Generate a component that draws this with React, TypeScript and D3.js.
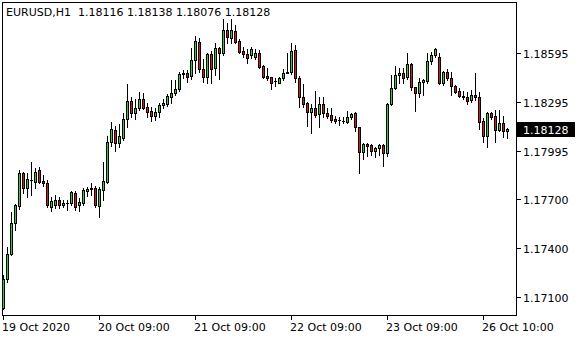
import React from "react";
import * as d3 from "d3";

const symbolTitle = "EURUSD,H1";
const lastOHLC = ["1.18116", "1.18138", "1.18076", "1.18128"];

const openP = [1.17031,1.17208,1.17363,1.17552,1.17658,1.17858,1.17766,1.17817,1.17806,1.17878,1.17811,1.17797,1.17653,1.17664,1.17694,1.17664,1.17674,1.17674,1.17739,1.17664,1.17674,1.17751,1.1776,1.17766,1.17658,1.17756,1.17806,1.18052,1.18123,1.18045,1.18072,1.18189,1.18301,1.18226,1.18256,1.18311,1.18262,1.18238,1.18211,1.18232,1.18275,1.18281,1.18327,1.18348,1.18374,1.18465,1.18474,1.18454,1.18552,1.18664,1.18495,1.18446,1.18589,1.18501,1.18624,1.18597,1.18736,1.18685,1.18732,1.1867,1.18609,1.18589,1.18583,1.18569,1.18597,1.18515,1.18454,1.18446,1.18425,1.18413,1.18444,1.18477,1.18477,1.18613,1.1844,1.18324,1.18287,1.18235,1.18256,1.18221,1.18283,1.18229,1.18215,1.18191,1.18185,1.1818,1.18174,1.18205,1.18226,1.1814,1.1799,1.18036,1.18031,1.17995,1.18011,1.18031,1.1798,1.18283,1.18379,1.1846,1.18471,1.18446,1.18528,1.18385,1.18348,1.18419,1.18425,1.18548,1.18583,1.18572,1.18413,1.18477,1.1844,1.18393,1.18362,1.18332,1.18324,1.18307,1.18338,1.18324,1.1818,1.18086,1.18229,1.18209,1.18123,1.18164,1.18116];
const highP = [1.17235,1.17405,1.17623,1.17668,1.17878,1.17868,1.17858,1.17925,1.17889,1.17898,1.17848,1.17817,1.17715,1.17725,1.17715,1.17694,1.17694,1.17751,1.17751,1.17705,1.17766,1.17776,1.178,1.1778,1.17776,1.17929,1.18086,1.18174,1.18148,1.1816,1.18226,1.18405,1.18324,1.18311,1.18358,1.18352,1.18291,1.18262,1.18256,1.18287,1.18311,1.18344,1.1843,1.1843,1.1848,1.18491,1.18491,1.18624,1.18699,1.18687,1.18556,1.18597,1.18609,1.18654,1.1863,1.18802,1.18781,1.18802,1.18767,1.18679,1.18634,1.18618,1.1863,1.18618,1.18613,1.18521,1.18501,1.1845,1.1844,1.1845,1.18495,1.18593,1.18656,1.18644,1.18454,1.18405,1.18297,1.18283,1.18364,1.18324,1.18324,1.18256,1.1826,1.18209,1.18205,1.18201,1.18241,1.18229,1.18235,1.18143,1.18042,1.18042,1.18037,1.18017,1.18035,1.18035,1.18287,1.1846,1.18515,1.18501,1.18501,1.18593,1.18536,1.18389,1.1844,1.18434,1.18593,1.18603,1.18624,1.18597,1.18487,1.18495,1.1848,1.18399,1.18379,1.18364,1.18358,1.18368,1.18474,1.18358,1.18195,1.18235,1.18235,1.18246,1.18246,1.18209,1.18138];
const lowP = [1.17026,1.17194,1.17357,1.17511,1.17637,1.17735,1.17715,1.17725,1.17766,1.17797,1.1778,1.17653,1.17629,1.17643,1.17643,1.1765,1.17633,1.17664,1.17633,1.17629,1.17664,1.17719,1.17725,1.17653,1.17588,1.17694,1.17799,1.18025,1.17996,1.18021,1.18062,1.18143,1.18201,1.18189,1.18246,1.1825,1.18205,1.1818,1.18185,1.18205,1.18256,1.1827,1.18291,1.18338,1.18364,1.1844,1.18419,1.18434,1.18474,1.1848,1.18419,1.18413,1.18413,1.1846,1.18434,1.18583,1.18654,1.18654,1.18654,1.18593,1.18572,1.18536,1.18563,1.18556,1.18501,1.1844,1.1843,1.18376,1.18393,1.18409,1.1843,1.18471,1.18465,1.18419,1.18266,1.18266,1.18148,1.18107,1.18205,1.18143,1.18201,1.18195,1.18174,1.18164,1.18154,1.18168,1.18164,1.18189,1.18119,1.17858,1.17944,1.17964,1.1797,1.1796,1.1797,1.17905,1.17964,1.18276,1.18373,1.18409,1.18409,1.18434,1.18368,1.18241,1.18324,1.18338,1.18413,1.18528,1.18572,1.18405,1.18399,1.1843,1.18338,1.18348,1.18324,1.18311,1.18283,1.18297,1.18307,1.18128,1.18052,1.18021,1.18189,1.18052,1.18119,1.18078,1.18076];
const closeP = [1.17208,1.17363,1.17552,1.17664,1.17858,1.17766,1.17821,1.17815,1.17868,1.17806,1.17797,1.17664,1.17688,1.17694,1.17664,1.17678,1.17676,1.17743,1.17653,1.17684,1.17756,1.17762,1.17768,1.17664,1.1776,1.17811,1.18052,1.18128,1.18045,1.18086,1.18189,1.18301,1.18226,1.18256,1.18311,1.1826,1.18235,1.18211,1.18232,1.18275,1.18287,1.18332,1.18352,1.18374,1.18466,1.18474,1.1845,1.18552,1.1867,1.18495,1.18446,1.18589,1.18495,1.18624,1.18597,1.18736,1.18691,1.18736,1.18664,1.18603,1.18587,1.18566,1.18618,1.18597,1.18511,1.1845,1.1844,1.18413,1.18423,1.1844,1.18474,1.18475,1.18609,1.1844,1.18324,1.18283,1.18235,1.18256,1.18215,1.18283,1.18226,1.18209,1.18185,1.1818,1.18183,1.18181,1.18201,1.18221,1.1814,1.1799,1.18036,1.18025,1.17996,1.18011,1.18031,1.1798,1.18283,1.18379,1.1846,1.18474,1.1844,1.18528,1.18385,1.18348,1.18419,1.1843,1.18548,1.18583,1.18618,1.18413,1.18477,1.1844,1.18393,1.18358,1.18332,1.18324,1.18303,1.18338,1.18324,1.18174,1.18086,1.18229,1.18201,1.18123,1.18164,1.18119,1.18128];

const priceTicks = [1.18595, 1.18295, 1.17995, 1.177, 1.174, 1.171];
const timeTickIndex = [0, 24, 48, 72, 96, 120];
const timeTickLabels = ["19 Oct 2020", "20 Oct 09:00", "21 Oct 09:00", "22 Oct 09:00", "23 Oct 09:00", "26 Oct 10:00"];
const currentPrice = 1.18128;

const W = 580, H = 340;
const FL = 2, FT = 2, FR = 516, FB = 315;
const FONT = "'DejaVu Sans', Verdana, sans-serif";
const UP = "#32cd32";
const DOWN = "#d01c1c";

export default function App() {
  const x = d3.scaleLinear().domain([0, 126]).range([3.5, 507.5]);
  const y = d3.scaleLinear().domain([1.171, 1.18595]).range([297, 53]);
  const candles = openP.map((o, i) => ({ i, o, h: highP[i], l: lowP[i], c: closeP[i] }));
  const tickY = (p: number, k: number) => Math.round(y(priceTicks[0]) + k * (y(priceTicks[priceTicks.length - 1]) - y(priceTicks[0])) / (priceTicks.length - 1));

  return (
    <svg width={W} height={H} style={{ position: "absolute", left: 0, top: 0, background: "#fff" }} fontFamily={FONT}>
      <rect x={0} y={0} width={W} height={H} fill="#fff" />
      <g shapeRendering="crispEdges">
        {candles.map((d) => {
          const cx = Math.floor(x(d.i)) + 0.5;
          const yt = Math.round(y(Math.max(d.o, d.c)));
          const yb = Math.round(y(Math.min(d.o, d.c)));
          const fill = d.c > d.o ? UP : d.c < d.o ? DOWN : "#000";
          return (
            <g key={d.i}>
              <line x1={cx} x2={cx} y1={Math.round(y(d.h))} y2={Math.round(y(d.l)) + 1} stroke="#000" strokeWidth={1} />
              {yb - yt >= 1 ? (
                <rect x={cx - 1} y={yt + 0.5} width={2} height={yb - yt} fill={fill} stroke="#000" strokeWidth={1} />
              ) : (
                <line x1={cx - 1.5} x2={cx + 1.5} y1={yt + 0.5} y2={yt + 0.5} stroke="#000" strokeWidth={1} />
              )}
            </g>
          );
        })}
        <rect x={FL + 0.5} y={FT + 0.5} width={FR - FL} height={FB - FT} fill="none" stroke="#000" strokeWidth={1} />
        {priceTicks.map((p, k) => (
          <line key={"pt" + k} x1={FR} x2={FR + 5} y1={tickY(p, k) + 0.5} y2={tickY(p, k) + 0.5} stroke="#000" />
        ))}
        {timeTickIndex.map((ti, k) => (
          <line key={"tt" + k} x1={Math.floor(x(ti)) + 0.5} x2={Math.floor(x(ti)) + 0.5} y1={FB} y2={FB + 5} stroke="#000" />
        ))}
      </g>
      {priceTicks.map((p, k) => (
        <text key={"pl" + k} x={523} y={tickY(p, k) + 4.5} fontSize={11} fill="#000">
          {p.toFixed(5)}
        </text>
      ))}
      {timeTickIndex.map((ti, k) => (
        <text key={"tl" + k} x={Math.floor(x(ti)) - 1} y={331} fontSize={11} fill="#000">
          {timeTickLabels[k]}
        </text>
      ))}
      <rect x={517} y={Math.round(y(currentPrice)) - 7} width={58} height={15} fill="#000" shapeRendering="crispEdges" />
      <text x={523} y={Math.round(y(currentPrice)) + 4.5} fontSize={11} fill="#fff">
        {currentPrice.toFixed(5)}
      </text>
      <text x={6} y={16} fontSize={11} fill="#000" style={{ whiteSpace: "pre" }}>
        {symbolTitle + "  " + lastOHLC.join(" ")}
      </text>
    </svg>
  );
}
